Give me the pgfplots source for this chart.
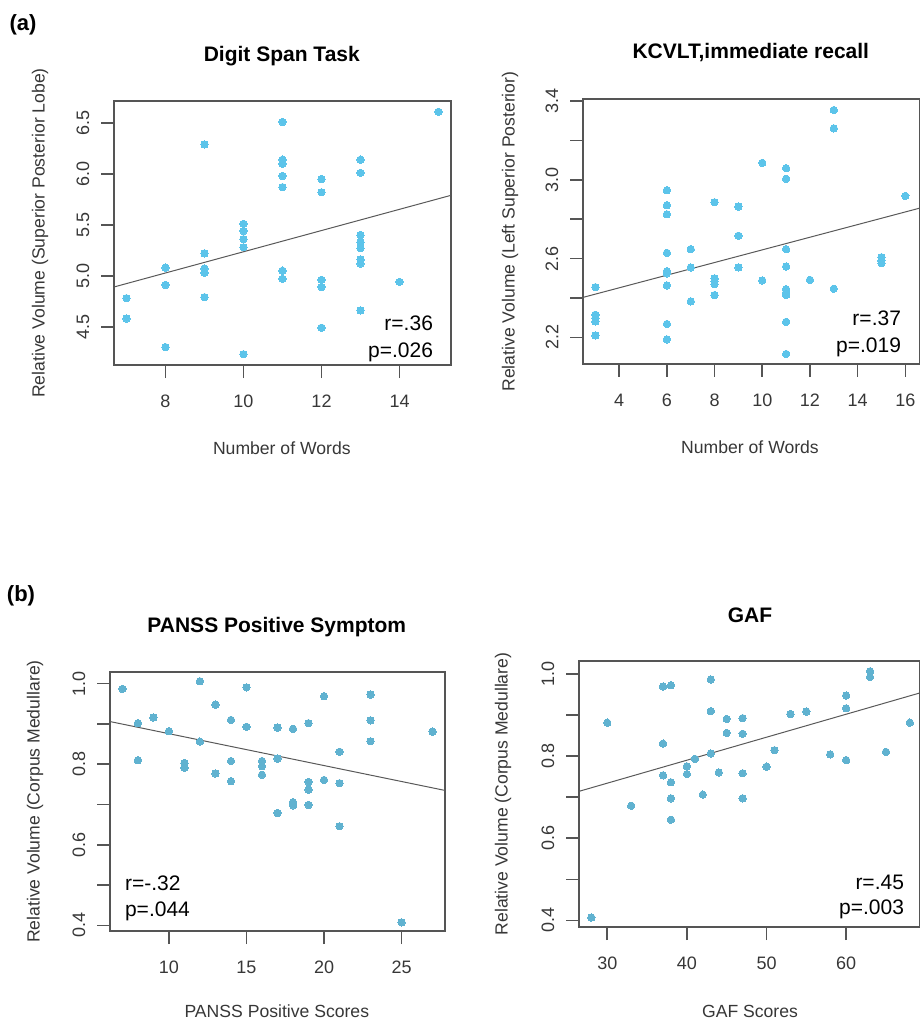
\documentclass[border=0pt]{standalone}
\usepackage{pgfplots}
\pgfplotsset{compat=1.18}
\usepackage{fontspec}
\setmainfont{Liberation Sans}
\definecolor{ptA}{RGB}{92,196,234}
\definecolor{ptB}{RGB}{96,178,208}
\definecolor{boxc}{RGB}{85,85,85}
\definecolor{txtc}{RGB}{55,55,55}
\tikzset{tk/.style={draw=boxc, line width=0.8pt}}
\pgfplotsset{
  myaxis/.style={
    scale only axis, anchor=north west,
    axis line style={boxc, line width=0.6pt},
    tick style={draw=boxc, line width=0.8pt},
    major tick length=6.5pt, tick align=outside,
    xtick pos=bottom, ytick pos=left,
    every tick label/.append style={font=\fontsize{9}{10}\selectfont, text=txtc},
    /pgf/number format/assume math mode=true,
    xticklabel style={anchor=center, yshift=-11.5pt},
    yticklabel style={xshift=-9pt, rotate=90, anchor=center},
    clip=false,
  },
  pts/.style={only marks, mark=*, mark size=1.85pt, color=#1, mark options={draw=#1, fill=#1, line width=0pt}},
  fit/.style={no marks, draw=black!65, line width=0.5pt},
}
\begin{document}
\begin{tikzpicture}
\path[use as bounding box] (0,0) rectangle (460pt,-510.5pt);
\node[font=\bfseries\fontsize{11}{12}\selectfont] at (11.5pt,-12.5pt) {(a)};
\node[font=\bfseries\fontsize{11}{12}\selectfont] at (10.5pt,-298pt) {(b)};
% ---------- Panel 1 ----------
\begin{axis}[myaxis, at={(57pt,-50.5pt)}, width=168.5pt, height=132pt,
  xmin=6.68, xmax=15.32, ymin=4.124, ymax=6.716,
  xtick={8,10,12,14}, ytick={4.5,5.0,5.5,6.0,6.5},
  yticklabels={4.5,5.0,5.5,6.0,6.5}]
\addplot[pts=ptA] coordinates {
(7,4.78) (7,4.58)
(8,5.08) (8,4.91) (8,4.30)
(9,6.29) (9,5.22) (9,5.07) (9,5.03) (9,4.79)
(10,5.51) (10,5.44) (10,5.36) (10,5.28) (10,4.23)
(11,6.51) (11,6.14) (11,6.10) (11,5.98) (11,5.87) (11,5.05) (11,4.97)
(12,5.95) (12,5.82) (12,4.96) (12,4.89) (12,4.49)
(13,6.14) (13,6.01) (13,5.40) (13,5.33) (13,5.27) (13,5.16) (13,5.12) (13,4.66)
(14,4.94)
(15,6.61)
};
\addplot[fit] coordinates {(6.68,4.89) (15.32,5.79)};
\pgfplotsinvokeforeach{8,10,12,14}{\draw[tk] (axis cs:#1,4.124) -- ++(0pt,-6.5pt);}
\pgfplotsinvokeforeach{4.5,5.0,5.5,6.0,6.5}{\draw[tk] (axis cs:6.68,#1) -- ++(-6.5pt,0pt);}
\end{axis}
\node[font=\bfseries\fontsize{10.5}{12}\selectfont] at (140.9pt,-28.3pt) {Digit Span Task};
\node[font=\fontsize{8.8}{10}\selectfont, text=txtc] at (140.9pt,-224pt) {Number of Words};
\node[font=\fontsize{8.8}{10}\selectfont, text=txtc, rotate=90] at (20pt,-116.5pt) {Relative Volume (Superior Posterior Lobe)};
\node[font=\fontsize{10.5}{12}\selectfont, anchor=east] at (220pt,-161.5pt) {r=.36};
\node[font=\fontsize{10.5}{12}\selectfont, anchor=east] at (220pt,-176pt) {p=.026};
% ---------- Panel 2 ----------
\begin{axis}[myaxis, at={(291.5pt,-49.5pt)}, width=168.3pt, height=132.5pt,
  xmin=2.48, xmax=16.6, ymin=2.065, ymax=3.41,
  xtick={4,6,8,10,12,14,16}, ytick={2.2,2.4,2.6,2.8,3.0,3.2,3.4},
  yticklabels={2.2,,2.6,,3.0,,3.4}]
\addplot[pts=ptA] coordinates {
(3,2.455) (3,2.315) (3,2.298) (3,2.281) (3,2.21)
(6,2.947) (6,2.871) (6,2.825) (6,2.629) (6,2.536) (6,2.525) (6,2.464) (6,2.268) (6,2.19)
(7,2.648) (7,2.555) (7,2.383)
(8,2.886) (8,2.50) (8,2.485) (8,2.47) (8,2.415)
(9,2.864) (9,2.716) (9,2.555)
(10,3.086) (10,2.489)
(11,3.059) (11,3.005) (11,2.648) (11,2.56) (11,2.445) (11,2.428) (11,2.415) (11,2.279) (11,2.116)
(12,2.492)
(13,3.354) (13,3.261) (13,2.447)
(15,2.607) (15,2.59) (15,2.577)
(16,2.918)
};
\addplot[fit] coordinates {(2.48,2.403) (16.6,2.856)};
\pgfplotsinvokeforeach{4,6,8,10,12,14,16}{\draw[tk] (axis cs:#1,2.065) -- ++(0pt,-6.5pt);}
\pgfplotsinvokeforeach{2.2,2.4,2.6,2.8,3.0,3.2,3.4}{\draw[tk] (axis cs:2.48,#1) -- ++(-6.5pt,0pt);}
\end{axis}
\node[font=\bfseries\fontsize{10.5}{12}\selectfont] at (375.4pt,-26.5pt) {KCVLT,immediate recall};
\node[font=\fontsize{8.8}{10}\selectfont, text=txtc] at (375pt,-223.5pt) {Number of Words};
\node[font=\fontsize{8.8}{10}\selectfont, text=txtc, rotate=90] at (255pt,-115.8pt) {Relative Volume (Left Superior Posterior)};
\node[font=\fontsize{10.5}{12}\selectfont, anchor=east] at (454pt,-159pt) {r=.37};
\node[font=\fontsize{10.5}{12}\selectfont, anchor=east] at (454pt,-173.5pt) {p=.019};
% ---------- Panel 3 ----------
\begin{axis}[myaxis, at={(55pt,-336pt)}, width=167.5pt, height=129.5pt,
  xmin=6.2, xmax=27.8, ymin=0.386, ymax=1.029,
  xtick={10,15,20,25}, ytick={0.4,0.5,0.6,0.7,0.8,0.9,1.0},
  yticklabels={0.4,,0.6,,0.8,,1.0}]
\addplot[pts=ptB] coordinates {
(7,0.987)
(8,0.902) (8,0.81)
(9,0.916)
(10,0.882)
(11,0.803) (11,0.791)
(12,1.006) (12,0.856)
(13,0.948) (13,0.777)
(14,0.91) (14,0.808) (14,0.758)
(15,0.991) (15,0.893)
(16,0.808) (16,0.795) (16,0.774)
(17,0.891) (17,0.814) (17,0.679)
(18,0.888) (18,0.706) (18,0.698)
(19,0.902) (19,0.756) (19,0.737) (19,0.699)
(20,0.969) (20,0.761)
(21,0.831) (21,0.753) (21,0.646)
(23,0.973) (23,0.909) (23,0.857)
(25,0.4075)
(27,0.881)
};
\addplot[fit] coordinates {(6.2,0.906) (27.8,0.735)};
\pgfplotsinvokeforeach{10,15,20,25}{\draw[tk] (axis cs:#1,0.386) -- ++(0pt,-6.5pt);}
\pgfplotsinvokeforeach{0.4,0.5,0.6,0.7,0.8,0.9,1.0}{\draw[tk] (axis cs:6.2,#1) -- ++(-6.5pt,0pt);}
\end{axis}
\node[font=\bfseries\fontsize{10.5}{12}\selectfont] at (138.4pt,-313.3pt) {PANSS Positive Symptom};
\node[font=\fontsize{8.8}{10}\selectfont, text=txtc] at (138.4pt,-505.8pt) {PANSS Positive Scores};
\node[font=\fontsize{8.8}{10}\selectfont, text=txtc, rotate=90] at (17.5pt,-400.8pt) {Relative Volume (Corpus Medullare)};
\node[font=\fontsize{10.5}{12}\selectfont, anchor=west] at (59pt,-441.5pt) {r=-.32};
\node[font=\fontsize{10.5}{12}\selectfont, anchor=west] at (59pt,-455.5pt) {p=.044};
% ---------- Panel 4 ----------
\begin{axis}[myaxis, at={(289.5pt,-330.5pt)}, width=170.2pt, height=133pt,
  xmin=26.45, xmax=69.2, ymin=0.384, ymax=1.031,
  xtick={30,40,50,60}, ytick={0.4,0.5,0.6,0.7,0.8,0.9,1.0},
  yticklabels={0.4,,0.6,,0.8,,1.0}]
\addplot[pts=ptB] coordinates {
(28,0.407) (30,0.881) (33,0.679)
(37,0.969) (37,0.830) (37,0.753)
(38,0.972) (38,0.736) (38,0.697) (38,0.645)
(40,0.775) (40,0.756)
(41,0.793) (42,0.706)
(43,0.986) (43,0.909) (43,0.806)
(44,0.760)
(45,0.890) (45,0.856)
(47,0.892) (47,0.854) (47,0.758) (47,0.697)
(50,0.774) (51,0.814) (53,0.902) (55,0.908) (58,0.804)
(60,0.947) (60,0.916) (60,0.790)
(63,1.006) (63,0.992)
(65,0.810) (68,0.881)
};
\addplot[fit] coordinates {(26.45,0.714) (69.2,0.953)};
\pgfplotsinvokeforeach{30,40,50,60}{\draw[tk] (axis cs:#1,0.384) -- ++(0pt,-6.5pt);}
\pgfplotsinvokeforeach{0.4,0.5,0.6,0.7,0.8,0.9,1.0}{\draw[tk] (axis cs:26.45,#1) -- ++(-6.5pt,0pt);}
\end{axis}
\node[font=\bfseries\fontsize{10.5}{12}\selectfont] at (375pt,-307.5pt) {GAF};
\node[font=\fontsize{8.8}{10}\selectfont, text=txtc] at (375pt,-505.8pt) {GAF Scores};
\node[font=\fontsize{8.8}{10}\selectfont, text=txtc, rotate=90] at (251.5pt,-397pt) {Relative Volume (Corpus Medullare)};
\node[font=\fontsize{10.5}{12}\selectfont, anchor=east] at (455.5pt,-441pt) {r=.45};
\node[font=\fontsize{10.5}{12}\selectfont, anchor=east] at (455.5pt,-454.5pt) {p=.003};
\end{tikzpicture}
\end{document}
